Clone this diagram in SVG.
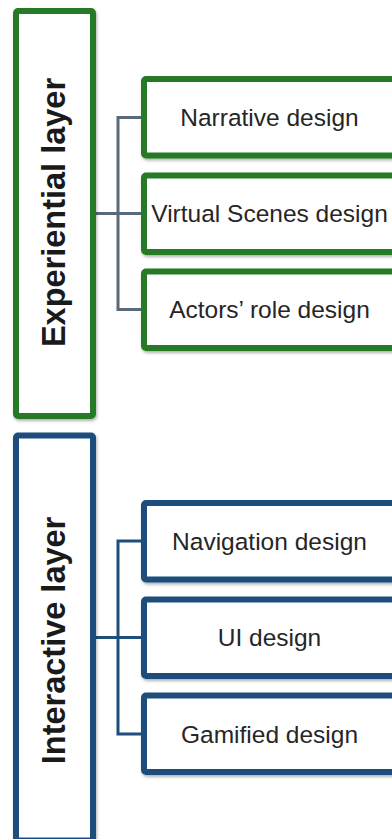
<svg xmlns="http://www.w3.org/2000/svg" width="392" height="839" viewBox="0 0 392 839">
  <defs>
    <filter id="shadow" x="-10%" y="-10%" width="130%" height="130%">
      <feDropShadow dx="1" dy="2" stdDeviation="1.5" flood-color="#000" flood-opacity="0.3"/>
    </filter>
    <style>
      .box { fill: #ffffff; stroke-width: 6; filter: url(#shadow); }
      .green { stroke: #267a26; }
      .blue { stroke: #1f4e7d; }
      .layer-title { font-family: "Liberation Sans", Arial, sans-serif; font-weight: bold; font-size: 32.5px; fill: #1a1a1a; text-anchor: middle; }
      .item { font-family: "Liberation Sans", Arial, sans-serif; font-size: 24.5px; fill: #262626; text-anchor: middle; }
      .link { fill: none; stroke-width: 3; }
      .link-exp { stroke: #5a6a78; }
      .link-int { stroke: #1f4e7d; }
    </style>
  </defs>
  <rect width="392" height="839" fill="#ffffff"/>

  <!-- connectors -->
  <g id="connectors">
    <path class="link link-exp" d="M96 213.5 H118 M144 117.5 H118 V309.5 H144 M118 213.5 H144"/>
    <path class="link link-int" d="M96 637.5 H118 M144 541 H118 V734 H144 M118 637.5 H144"/>
  </g>

  <!-- experiential layer -->
  <g id="experiential-layer">
    <rect class="box green" x="16" y="11" width="77" height="405" rx="2"/>
    <text class="layer-title" transform="translate(65 212.5) rotate(-90)">Experiential layer</text>
  </g>
  <g id="narrative-design">
    <rect class="box green" x="144" y="79" width="251" height="76.5" rx="2"/>
    <text class="item" x="269.5" y="126">Narrative design</text>
  </g>
  <g id="virtual-scenes-design">
    <rect class="box green" x="144" y="175.5" width="251" height="76.5" rx="2"/>
    <text class="item" x="269.5" y="222">Virtual Scenes design</text>
  </g>
  <g id="actors-role-design">
    <rect class="box green" x="144" y="271.5" width="251" height="76.5" rx="2"/>
    <text class="item" x="269.5" y="318">Actors’ role design</text>
  </g>

  <!-- interactive layer -->
  <g id="interactive-layer">
    <rect class="box blue" x="16" y="435.5" width="77" height="405" rx="2"/>
    <text class="layer-title" transform="translate(65 640.5) rotate(-90)">Interactive layer</text>
  </g>
  <g id="navigation-design">
    <rect class="box blue" x="144" y="503" width="251" height="76.5" rx="2"/>
    <text class="item" x="269.5" y="549.5">Navigation design</text>
  </g>
  <g id="ui-design">
    <rect class="box blue" x="144" y="599.5" width="251" height="76.5" rx="2"/>
    <text class="item" x="269.5" y="646">UI design</text>
  </g>
  <g id="gamified-design">
    <rect class="box blue" x="144" y="695.5" width="251" height="76.5" rx="2"/>
    <text class="item" x="269.5" y="742.5">Gamified design</text>
  </g>
</svg>
